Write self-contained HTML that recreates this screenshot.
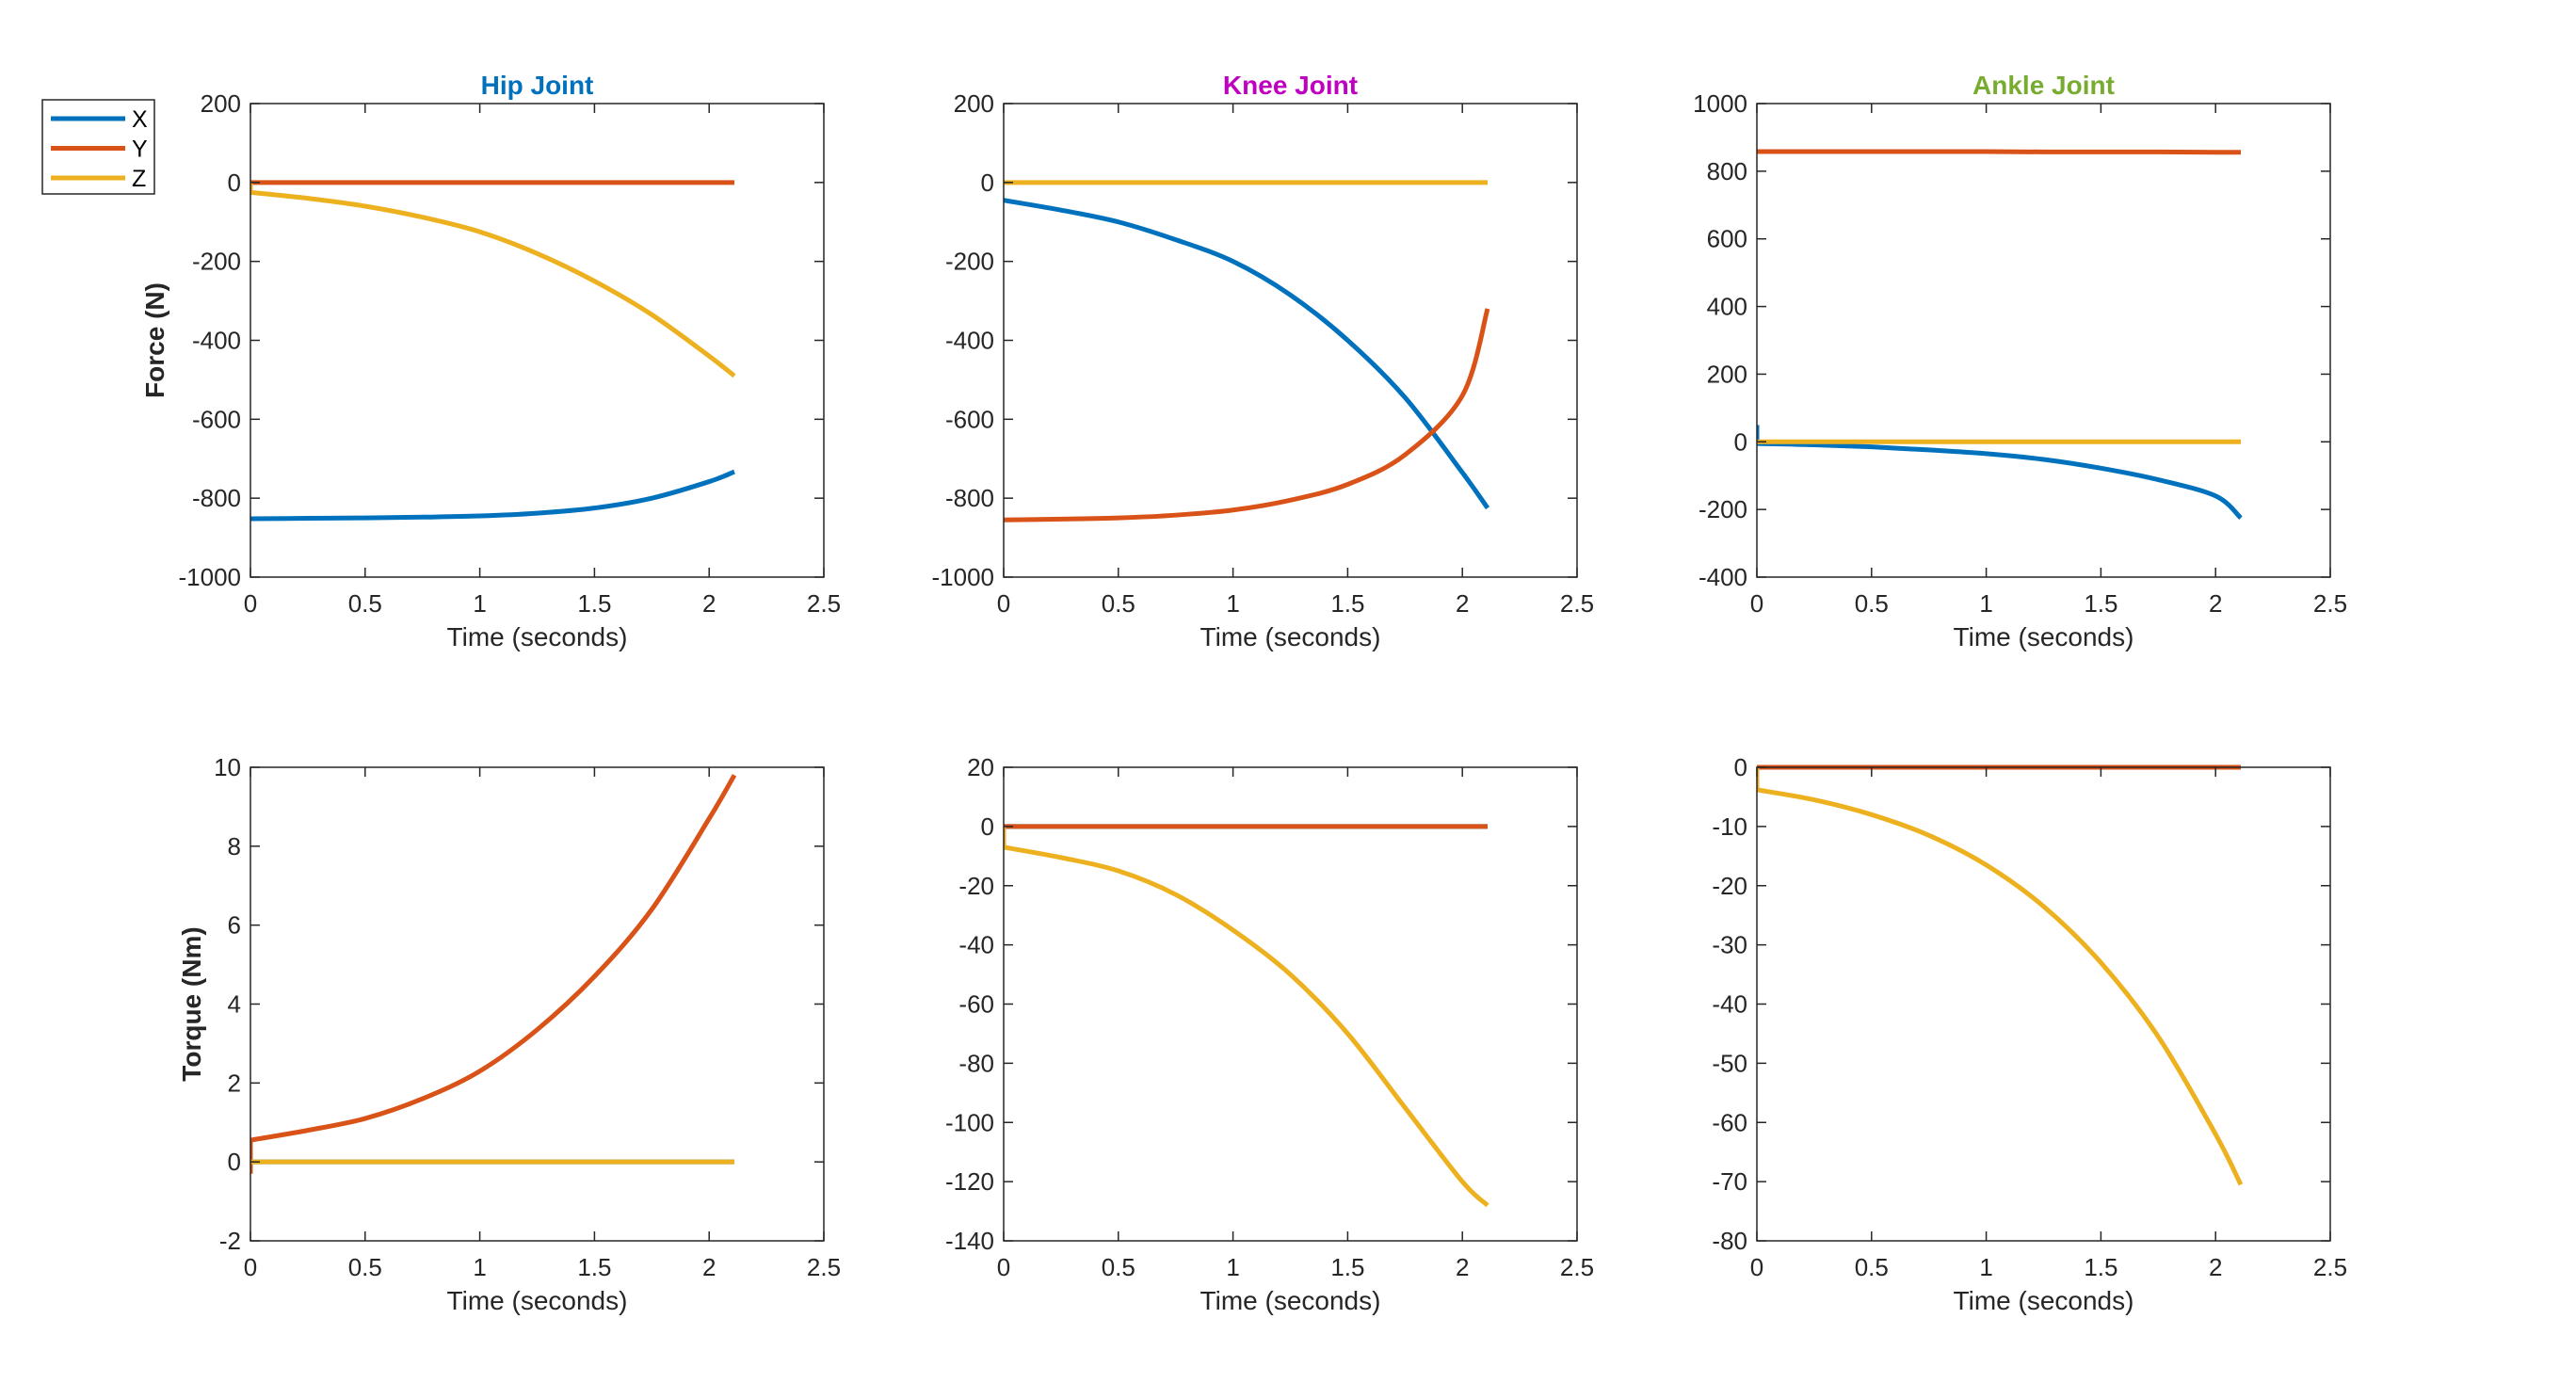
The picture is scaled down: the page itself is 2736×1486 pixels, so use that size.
<!DOCTYPE html>
<html><head><meta charset="utf-8"><style>
html,body{margin:0;padding:0;background:#fff;}
svg text{font-family:"Liberation Sans",sans-serif;}
</style></head><body>
<svg id="fig" width="2736" height="1481" xmlns="http://www.w3.org/2000/svg"></svg>
<script>
const times = [0,0.25,0.5,0.75,1,1.25,1.5,1.75,2,2.11];
const hipForceX = [-852,-851,-850,-848,-845,-838,-825,-800,-758,-733];
const hipForceY = [0,0,0,0,0,0,0,0,0,0];
const hipForceZ = [-25,-40,-60,-88,-125,-180,-250,-335,-440,-490];
const kneeForceX = [-45,-70,-100,-145,-200,-285,-400,-545,-735,-825];
const kneeForceY = [-855,-853,-850,-843,-830,-805,-765,-690,-540,-320];
const kneeForceZ = [0,0,0,0,0,0,0,0,0,0];
const ankleForceX = [-5,-9,-15,-24,-35,-52,-78,-112,-160,-225];
const ankleForceY = [858,858,858,858,858,857,857,857,856,856];
const ankleForceZ = [0,0,0,0,0,0,0,0,0,0];
const hipTorqueX = [0,0,0,0,0,0,0,0,0,0];
const hipTorqueY = [0.55,0.8,1.1,1.6,2.3,3.35,4.7,6.4,8.7,9.8];
const hipTorqueZ = [0,0,0,0,0,0,0,0,0,0];
const kneeTorqueX = [0,0,0,0,0,0,0,0,0,0];
const kneeTorqueY = [0,0,0,0,0,0,0,0,0,0];
const kneeTorqueZ = [-7,-10.5,-15,-23,-35,-50,-70,-95,-120,-128];
const ankleTorqueX = [0,0,0,0,0,0,0,0,0,0];
const ankleTorqueY = [0,0,0,0,0,0,0,0,0,0];
const ankleTorqueZ = [-3.8,-5.5,-8,-11.5,-16.5,-23.5,-33,-45.5,-62,-70.5];
const xTicks = [0,0.5,1,1.5,2,2.5];
const xTickLabels = ["0","0.5","1","1.5","2","2.5"];
const titles = ["Hip Joint","Knee Joint","Ankle Joint"];
const titleColors = ["#0072BD","#C000C0","#77AC30"];
const legendLabels = ["X","Y","Z"];
const colors = ["#0072BD","#D95319","#EDB120"];

const NS="http://www.w3.org/2000/svg";
const svg=document.getElementById('fig');
function mk(tag,attrs,parent){const e=document.createElementNS(NS,tag);for(const k in attrs)e.setAttribute(k,attrs[k]);(parent||svg).appendChild(e);return e;}

const colL=[266,1066,1866], W=609;
const rowT=[110,815], H=503;

const panels=[
 {r:0,c:0,ymin:-1000,ymax:200,ticks:[-1000,-800,-600,-400,-200,0,200],series:[hipForceX,hipForceY,hipForceZ],spike:[null,null,[0,0]],name:'hip-force'},
 {r:0,c:1,ymin:-1000,ymax:200,ticks:[-1000,-800,-600,-400,-200,0,200],series:[kneeForceX,kneeForceY,kneeForceZ],spike:[null,null,null],name:'knee-force'},
 {r:0,c:2,ymin:-400,ymax:1000,ticks:[-400,-200,0,200,400,600,800,1000],series:[ankleForceX,ankleForceY,ankleForceZ],spike:[[0,50],null,null],name:'ankle-force'},
 {r:1,c:0,ymin:-2,ymax:10,ticks:[-2,0,2,4,6,8,10],series:[hipTorqueX,hipTorqueY,hipTorqueZ],spike:[null,[0,-0.3],null],name:'hip-torque'},
 {r:1,c:1,ymin:-140,ymax:20,ticks:[-140,-120,-100,-80,-60,-40,-20,0,20],series:[kneeTorqueX,kneeTorqueY,kneeTorqueZ],spike:[null,null,[0,0]],name:'knee-torque'},
 {r:1,c:2,ymin:-80,ymax:0,ticks:[-80,-70,-60,-50,-40,-30,-20,-10,0],series:[ankleTorqueX,ankleTorqueY,ankleTorqueZ],spike:[null,null,[0,0]],name:'ankle-torque'}
];

panels.forEach(p=>{
  const L=colL[p.c],T=rowT[p.r];
  const sx=v=>L+v/2.5*W;
  const sy=v=>T+(p.ymax-v)/(p.ymax-p.ymin)*H;
  const g=mk('g',{});
  
  
  const clip=mk('clipPath',{id:'cl'+p.name},g);
  mk('rect',{x:L,y:T-4,width:W,height:H+8},clip);
  [0,1,2].forEach(si=>{
    const vals=p.series[si];
    const sp=p.spike[si];
    const P=times.map((t,i)=>[sx(t),sy(vals[i])]);
    let d;
    if(sp&&sp[1]!==null) d='M'+sx(0)+','+sy(sp[1])+' L'+P[0][0]+','+P[0][1];
    else d='M'+P[0][0]+','+P[0][1];
    for(let i=0;i<P.length-1;i++){
      const p0=P[Math.max(0,i-1)],p1=P[i],p2=P[i+1],p3=P[Math.min(P.length-1,i+2)];
      const c1=[p1[0]+(p2[0]-p0[0])/6,p1[1]+(p2[1]-p0[1])/6];
      const c2=[p2[0]-(p3[0]-p1[0])/6,p2[1]-(p3[1]-p1[1])/6];
      d+=' C'+c1[0]+','+c1[1]+' '+c2[0]+','+c2[1]+' '+p2[0]+','+p2[1];
    }
    const path=mk('path',{d:d,fill:'none',stroke:colors[si],'stroke-width':5,'clip-path':'url(#cl'+p.name+')','stroke-linejoin':'round'},g);
    
    
  });
  const box=mk('rect',{x:L,y:T,width:W,height:H,fill:'none',stroke:'#262626','stroke-width':1.5},g);
  
  
  xTicks.forEach((t,i)=>{
    const x=sx(t);
    mk('line',{x1:x,y1:T+H,x2:x,y2:T+H-10,stroke:'#262626','stroke-width':1.5},g);
    mk('line',{x1:x,y1:T,x2:x,y2:T+10,stroke:'#262626','stroke-width':1.5},g);
    const tx=mk('text',{x:x,y:T+H+37,'font-size':26,fill:'#262626','text-anchor':'middle'},g);
    tx.textContent=xTickLabels[i];
    
    
  });
  p.ticks.forEach(v=>{
    const y=sy(v);
    mk('line',{x1:L,y1:y,x2:L+10,y2:y,stroke:'#262626','stroke-width':1.5},g);
    mk('line',{x1:L+W,y1:y,x2:L+W-10,y2:y,stroke:'#262626','stroke-width':1.5},g);
    const ty=mk('text',{x:L-10,y:y+9,'font-size':26,fill:'#262626','text-anchor':'end'},g);
    ty.textContent=String(v);
    
    
  });
  const xl=mk('text',{x:L+W/2,y:T+H+73,'font-size':28,fill:'#262626','text-anchor':'middle'},g);
  xl.textContent='Time (seconds)';
  
  
  if(p.r===0){
    const tt=mk('text',{x:L+W/2,y:T-10,'font-size':28,'font-weight':'bold',fill:titleColors[p.c],'text-anchor':'middle'},g);
    tt.textContent=titles[p.c];
    
    
  }
  if(p.c===0){
    const lx=p.r===0?174:213;
    const yl=mk('text',{x:lx,y:T+H/2,'font-size':28,'font-weight':'bold',fill:'#262626','text-anchor':'middle',transform:'rotate(-90 '+lx+' '+(T+H/2)+')'},g);
    yl.textContent=p.r===0?'Force (N)':'Torque (Nm)';
    
    
  }
});

const lg=mk('g',{});


mk('rect',{x:45,y:106,width:119,height:100,fill:'#fff',stroke:'#262626','stroke-width':1.5},lg);
legendLabels.forEach((lab,i)=>{
  const y=126+i*31.5;
  const e=mk('g',{},lg);
  
  
  mk('line',{x1:54,y1:y,x2:133,y2:y,stroke:colors[i],'stroke-width':5},e);
  const t=mk('text',{x:140,y:y+9,'font-size':25,fill:'#000'},e);
  t.textContent=lab;
});
</script>
</body></html>
